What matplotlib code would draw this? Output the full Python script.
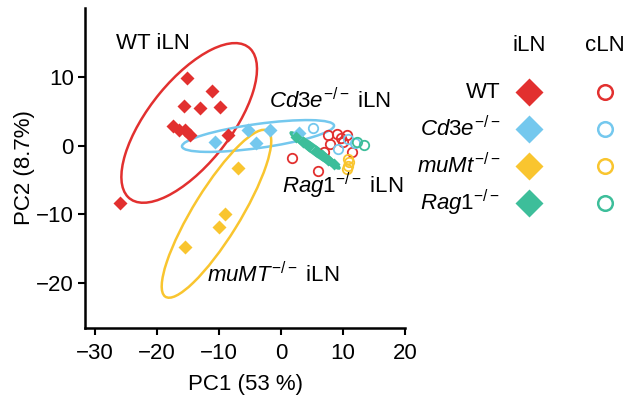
import matplotlib
matplotlib.use("Agg")
import matplotlib.pyplot as plt
from matplotlib.patches import Ellipse

plt.rcParams['font.family'] = ['Liberation Sans', 'DejaVu Sans']
plt.rcParams['mathtext.fontset'] = 'custom'
plt.rcParams['mathtext.rm'] = 'Liberation Sans'
plt.rcParams['mathtext.it'] = 'Liberation Sans:italic'

# groups
groups = ['WT', 'Cd3e', 'muMt', 'Rag1']
colors = ['#E2302F', '#74C8EE', '#F9C52F', '#3DBE9A']

# iLN samples (filled diamonds)
wt_iln_x = [-15.1, -11.2, -15.6, -13.1, -9.8, -17.4, -16.4, -15.4, -14.6, -8.6, -25.9]
wt_iln_y = [9.9, 8.0, 5.8, 5.4, 5.6, 2.9, 2.2, 2.3, 1.6, 1.5, -8.3]
cd3e_iln_x = [-10.6, -5.3, -4.1, -1.8, 2.9]
cd3e_iln_y = [0.6, 2.3, 0.4, 2.3, 1.9]
mumt_iln_x = [-7.0, -9.0, -10.0, -15.5]
mumt_iln_y = [-3.2, -10.0, -11.8, -14.7]
rag1_iln_x = [2.4, 3.5, 4.6, 5.6, 6.6, 7.6, 8.5]
rag1_iln_y = [1.3, 0.6, -0.1, -0.8, -1.4, -2.1, -2.7]

# cLN samples (open circles)
wt_cln_x = [7.6, 9.0, 10.6, 9.7, 7.9, 10.0, 11.4, 1.7, 6.0, 7.0]
wt_cln_y = [1.5, 1.7, 1.6, 1.1, 0.3, 0.5, -0.9, -1.8, -3.7, -0.9]
cd3e_cln_x = [5.2, 9.2, 11.9, 10.8]
cd3e_cln_y = [2.5, -0.5, 0.4, 1.0]
mumt_cln_x = [10.8, 10.9, 10.8, 10.7]
mumt_cln_y = [-1.9, -2.4, -2.9, -3.4]
rag1_cln_x = [13.4, 12.2]
rag1_cln_y = [0.1, 0.6]

# ellipses: centre x, centre y, width, height, angle
ell_cx = [-14.8, -3.7, -10.4, 5.5]
ell_cy = [3.3, 1.4, -9.9, -0.7]
ell_w = [29.2, 24.7, 29.2, 9.4]
ell_h = [12.8, 3.5, 7.4, 1.1]
ell_ang = [47.5, 7.1, 55.4, -33.4]

iln_x = [wt_iln_x, cd3e_iln_x, mumt_iln_x, rag1_iln_x]
iln_y = [wt_iln_y, cd3e_iln_y, mumt_iln_y, rag1_iln_y]
cln_x = [wt_cln_x, cd3e_cln_x, mumt_cln_x, rag1_cln_x]
cln_y = [wt_cln_y, cd3e_cln_y, mumt_cln_y, rag1_cln_y]

fs = 16

fig = plt.figure(figsize=(6.41, 4.03), dpi=100)
ax = fig.add_axes([85/641, 1-328/403, 320/641, 320/403])

for i in range(4):
    ax.add_patch(Ellipse((ell_cx[i], ell_cy[i]), ell_w[i], ell_h[i], angle=ell_ang[i],
                         fill=False, ec=colors[i], lw=1.8))
for i in range(4):
    ax.plot(cln_x[i], cln_y[i], 'o', ms=6.8, mfc='none', mec=colors[i], mew=1.3, ls='none')
for i in range(4):
    ms = 6.0 if i == 3 else 7.5
    ax.plot(iln_x[i], iln_y[i], 'D', ms=ms, color=colors[i], mec='none', ls='none')

ax.set_xlim(-31.6, 20)
ax.set_ylim(-26.5, 20)
ax.set_xticks([-30, -20, -10, 0, 10, 20])
ax.set_yticks([-20, -10, 0, 10])
ax.set_xticklabels(['\u221230', '\u221220', '\u221210', '0', '10', '20'])
ax.set_yticklabels(['\u221220', '\u221210', '0', '10'])
for s in ['top', 'right']:
    ax.spines[s].set_visible(False)
for s in ['left', 'bottom']:
    ax.spines[s].set_linewidth(1.8)
ax.tick_params(labelsize=fs, width=1.5, length=5, direction='out')
ax.tick_params(axis='x', pad=6)
ax.tick_params(axis='y', pad=3)
ax.set_xlabel('PC1 (53 %)', fontsize=fs, labelpad=7)
ax.set_ylabel('PC2 (8.7%)', fontsize=fs, labelpad=1)

ax.text(-26.6, 14.9, 'WT iLN', fontsize=fs, va='center', ha='left')
ax.text(-1.9, 6.5, r'$\mathit{Cd3e}^{\mathit{-/-}}$ iLN', fontsize=fs, va='center', ha='left')
ax.text(0.1, -5.9, r'$\mathit{Rag1}^{\mathit{-/-}}$ iLN', fontsize=fs, va='center', ha='left')
ax.text(-11.9, -18.8, r'$\mathit{muMT}^{\mathit{-/-}}$ iLN', fontsize=fs, va='center', ha='left')

# legend panel
lg = fig.add_axes([491/641, 1-225.2/403, 152/641, 192.4/403])
lg.set_xlim(-0.5, 1.5)
lg.set_ylim(3.6, -1.6)
lg.axis('off')
leg_labels = ['WT', r'$\mathit{Cd3e}^{\mathit{-/-}}$', r'$\mathit{muMt}^{\mathit{-/-}}$', r'$\mathit{Rag1}^{\mathit{-/-}}$']
for i in range(4):
    lg.plot([0], [i], 'D', ms=14.5, color=colors[i], mec='none', clip_on=False)
    lg.plot([1], [i], 'o', ms=10.5, mfc='none', mec=colors[i], mew=1.8, clip_on=False)
    lg.text(-0.38, i, leg_labels[i], fontsize=fs, ha='right', va='center')
lg.text(0, -1.25, 'iLN', fontsize=fs, ha='center', va='center')
lg.text(1, -1.25, 'cLN', fontsize=fs, ha='center', va='center')

fig.savefig('out.png', dpi=100)
